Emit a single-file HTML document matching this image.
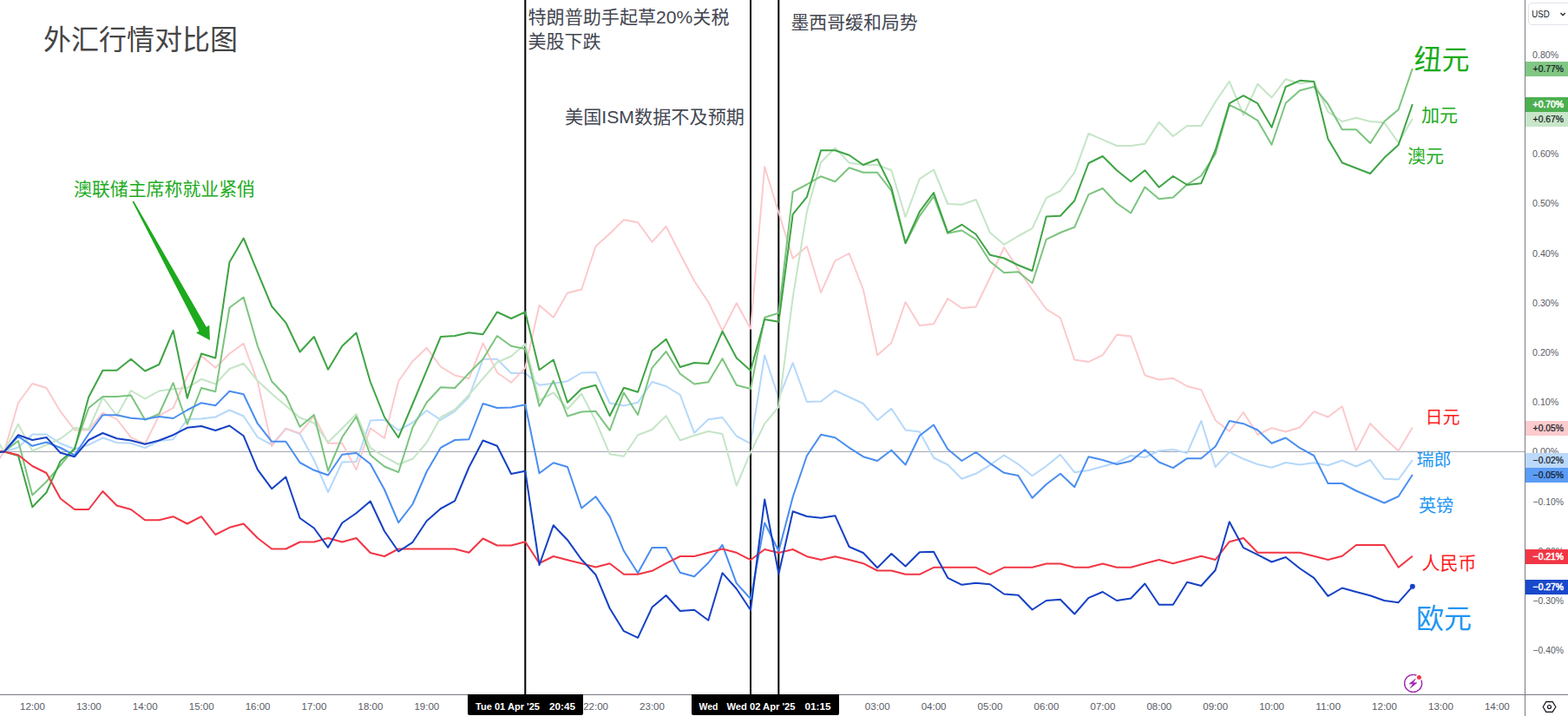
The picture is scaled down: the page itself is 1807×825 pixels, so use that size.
<!DOCTYPE html>
<html><head><meta charset="utf-8"><title>FX comparison</title>
<style>
html,body{margin:0;padding:0;background:#fff;}
body{width:1807px;height:825px;overflow:hidden;position:relative;font-family:"Liberation Sans",sans-serif;}
svg{position:absolute;left:0;top:0;display:block}
text{font-family:"Liberation Sans",sans-serif;}
.ax{font-size:11px;fill:#585b66;}
.tm{font-size:11.5px;fill:#585b66;text-anchor:middle;}
.lb{font-size:11px;}
.tb{font-size:11.5px;font-weight:bold;}
.cj{font-family:"Liberation Sans","Noto Sans CJK SC",sans-serif;}
</style></head><body>
<svg width="1807" height="825" viewBox="0 0 1807 825">
<rect width="1807" height="825" fill="#fff"/>
<rect x="0" y="520" width="1757" height="1" fill="#9598a1" opacity="0.85"/>
<path d="M-11.4,521 L4.8,520.5 L21,515.5 L37.3,500.5 L53.5,500.5 L69.7,511 L86,517.5 L102.2,512.5 L118.4,504.5 L134.6,510 L150.9,510.8 L167.1,516 L183.3,508 L199.6,506.2 L215.8,483 L232,482.5 L248.3,480.5 L264.5,472.5 L280.7,479.5 L296.9,503.8 L313.2,512.5 L329.4,493.8 L345.6,500 L361.9,530 L378.1,567 L394.3,532.5 L410.6,532 L426.8,484.5 L443,483.8 L459.2,495.8 L475.5,487 L491.7,473 L507.9,483.8 L524.2,473.8 L540.4,457.5 L556.6,413.8 L572.9,413.8 L589.1,430 L605.3,430 L621.5,443.8 L637.8,441.8 L654,439.2 L670.2,429.5 L686.5,429 L702.7,464.5 L718.9,467.5 L735.1,463.8 L751.4,440 L767.6,445 L783.8,455 L800.1,498.8 L816.3,483.2 L832.5,481 L848.8,502.5 L865,511.2 L881.2,409.5 L897.4,458.8 L913.7,418.2 L929.9,463 L946.1,462.5 L962.4,450 L978.6,457.5 L994.8,465 L1011.1,484.2 L1027.3,470.8 L1043.5,495.5 L1059.8,497.5 L1076,527.5 L1092.2,535.5 L1108.4,551.8 L1124.7,545.8 L1140.9,535.8 L1157.1,524.5 L1173.4,534.8 L1189.6,548.2 L1205.8,537 L1222,523.8 L1238.3,544.2 L1254.5,542 L1270.7,537.5 L1287,533 L1303.2,525 L1319.4,527 L1335.7,519.5 L1351.9,518 L1368.1,522 L1384.3,485 L1400.6,538 L1416.8,520.8 L1433,528.8 L1449.3,535 L1465.5,538.8 L1481.7,533 L1498,535.5 L1514.2,533.2 L1530.4,536.2 L1546.7,530.5 L1562.9,537.5 L1579.1,530 L1595.3,551.8 L1611.6,552.5 L1627.8,530" fill="none" stroke="#b5d8fb" stroke-width="2" stroke-linejoin="round" stroke-linecap="butt" opacity="1"/>
<rect x="604.3" y="0" width="2" height="800" fill="#000"/>
<rect x="864" y="0" width="2" height="800" fill="#000"/>
<rect x="896.3" y="0" width="2" height="800" fill="#000"/>
<g>
<path d="M-11.4,544 L4.8,520.5 L21,464.2 L37.3,442 L53.5,447 L69.7,474.2 L86,495.5 L102.2,495.5 L118.4,475.5 L134.6,483 L150.9,503.8 L167.1,511.5 L183.3,478.8 L199.6,470 L215.8,433.5 L232,410 L248.3,423.8 L264.5,407.5 L280.7,395.8 L296.9,440 L313.2,514.2 L329.4,493.8 L345.6,499.2 L361.9,479.5 L378.1,510.8 L394.3,510.8 L410.6,541.2 L426.8,493.2 L443,505 L459.2,439.2 L475.5,416.2 L491.7,400.8 L507.9,422.5 L524.2,432.5 L540.4,436.2 L556.6,395.5 L572.9,429.2 L589.1,440.8 L605.3,423.8 L621.5,351.8 L637.8,365.8 L654,337.5 L670.2,333.5 L686.5,283.8 L702.7,269.2 L718.9,253.2 L735.1,256.2 L751.4,278.8 L767.6,260.8 L783.8,292.5 L800.1,323.8 L816.3,348 L832.5,381.2 L848.8,349.2 L865,378.8 L881.2,192.2 L897.4,245 L913.7,297.8 L929.9,284 L946.1,337.2 L962.4,300.5 L978.6,292 L994.8,333.5 L1011.1,409.2 L1027.3,395 L1043.5,348 L1059.8,375 L1076,373.2 L1092.2,344 L1108.4,355 L1124.7,353.5 L1140.9,320 L1157.1,285 L1173.4,310 L1189.6,333.8 L1205.8,356.2 L1222,366.2 L1238.3,414.5 L1254.5,417 L1270.7,409.2 L1287,385.8 L1303.2,387.5 L1319.4,432.5 L1335.7,437.5 L1351.9,435.8 L1368.1,445 L1384.3,449.2 L1400.6,484.2 L1416.8,497 L1433,475 L1449.3,500.8 L1465.5,493.2 L1481.7,497.5 L1498,492.5 L1514.2,474.2 L1530.4,480.5 L1546.7,468.2 L1562.9,519.5 L1579.1,488 L1595.3,504.5 L1611.6,519.5 L1627.8,492.5" fill="none" stroke="#fcc8cb" stroke-width="1.9" stroke-linejoin="round" stroke-linecap="butt" opacity="1"/>
<path d="M-11.4,493.5 L4.8,520.5 L21,488.8 L37.3,519.5 L53.5,512.5 L69.7,505.5 L86,493 L102.2,494.5 L118.4,458 L134.6,478.8 L150.9,450 L167.1,459.5 L183.3,450.5 L199.6,448.2 L215.8,447 L232,436.8 L248.3,442.5 L264.5,425 L280.7,418.8 L296.9,438.8 L313.2,453.8 L329.4,467.5 L345.6,481.2 L361.9,487.5 L378.1,509.5 L394.3,493.8 L410.6,477 L426.8,516.2 L443,526.2 L459.2,535 L475.5,528.8 L491.7,510 L507.9,480.8 L524.2,472 L540.4,455 L556.6,436.2 L572.9,417.5 L589.1,410.5 L605.3,396.2 L621.5,461.2 L637.8,452.5 L654,471.2 L670.2,453.8 L686.5,485 L702.7,523.2 L718.9,525.8 L735.1,501.2 L751.4,495 L767.6,479.2 L783.8,507.5 L800.1,501.8 L816.3,497 L832.5,500 L848.8,559.8 L865,521.2 L881.2,488.2 L897.4,468.8 L913.7,342.5 L929.9,243.8 L946.1,187 L962.4,170.5 L978.6,187.5 L994.8,190 L1011.1,190 L1027.3,196.2 L1043.5,250 L1059.8,206.2 L1076,195.5 L1092.2,235 L1108.4,235.8 L1124.7,230 L1140.9,268 L1157.1,281.8 L1173.4,272 L1189.6,263.2 L1205.8,228 L1222,220 L1238.3,198.8 L1254.5,153.8 L1270.7,160.8 L1287,168 L1303.2,168 L1319.4,165.8 L1335.7,140.8 L1351.9,157 L1368.1,145 L1384.3,145 L1400.6,117.5 L1416.8,93.8 L1433,132.5 L1449.3,96.8 L1465.5,112.5 L1481.7,91.2 L1498,96.2 L1514.2,93.8 L1530.4,128.8 L1546.7,140 L1562.9,135.8 L1579.1,140 L1595.3,141.2 L1611.6,164.5 L1627.8,136.8" fill="none" stroke="#c5e5c6" stroke-width="2" stroke-linejoin="round" stroke-linecap="butt" opacity="1"/>
<path d="M-11.4,523 L4.8,520.5 L21,508 L37.3,570.5 L53.5,555 L69.7,536.2 L86,516.2 L102.2,470 L118.4,457 L134.6,457 L150.9,455.5 L167.1,483.8 L183.3,477 L199.6,441.2 L215.8,488.8 L232,447 L248.3,451.2 L264.5,354.5 L280.7,342.5 L296.9,398.8 L313.2,439.5 L329.4,456.2 L345.6,491.8 L361.9,478 L378.1,542.5 L394.3,503.8 L410.6,480 L426.8,524.2 L443,537.5 L459.2,544.2 L475.5,492.5 L491.7,463.8 L507.9,446.2 L524.2,447 L540.4,430 L556.6,413.8 L572.9,387 L589.1,398.8 L605.3,402 L621.5,468 L637.8,438.8 L654,479.5 L670.2,474.5 L686.5,473.8 L702.7,495.8 L718.9,452.5 L735.1,478 L751.4,423.8 L767.6,405 L783.8,430.8 L800.1,442.5 L816.3,440.2 L832.5,413.2 L848.8,443.8 L865,448 L881.2,365.8 L897.4,360.8 L913.7,221.2 L929.9,212.5 L946.1,203.2 L962.4,209.2 L978.6,193.2 L994.8,198.8 L1011.1,198.8 L1027.3,220 L1043.5,280.5 L1059.8,248.8 L1076,226.2 L1092.2,268.8 L1108.4,265.5 L1124.7,275.8 L1140.9,301.2 L1157.1,314.2 L1173.4,313.2 L1189.6,326.2 L1205.8,275.8 L1222,268 L1238.3,261.8 L1254.5,224.2 L1270.7,217 L1287,234.2 L1303.2,245.5 L1319.4,215.5 L1335.7,229.2 L1351.9,227.5 L1368.1,212.5 L1384.3,202.5 L1400.6,177.5 L1416.8,120.8 L1433,128.8 L1449.3,138.8 L1465.5,166.8 L1481.7,118.8 L1498,104.2 L1514.2,100 L1530.4,120 L1546.7,149.2 L1562.9,149.2 L1579.1,165 L1595.3,140 L1611.6,126.2 L1627.8,78.8" fill="none" stroke="#7cc47f" stroke-width="2" stroke-linejoin="round" stroke-linecap="butt" opacity="1"/>
<path d="M-11.4,521 L4.8,520.5 L21,502.8 L37.3,513.8 L53.5,509.5 L69.7,516 L86,524.5 L102.2,500 L118.4,478.2 L134.6,478.2 L150.9,481.8 L167.1,483 L183.3,480 L199.6,482 L215.8,472.5 L232,464.2 L248.3,467.2 L264.5,450.8 L280.7,454.2 L296.9,488.2 L313.2,508.8 L329.4,508.8 L345.6,533 L361.9,541.8 L378.1,547.5 L394.3,523.8 L410.6,522 L426.8,534.5 L443,564 L459.2,602.2 L475.5,581 L491.7,543.5 L507.9,515.8 L524.2,507 L540.4,506.2 L556.6,465 L572.9,470 L589.1,469.5 L605.3,466.2 L621.5,545.2 L637.8,533.2 L654,538 L670.2,585.5 L686.5,572.2 L702.7,595.2 L718.9,634.8 L735.1,660.2 L751.4,631 L767.6,631 L783.8,659.8 L800.1,664.2 L816.3,648.5 L832.5,627.8 L848.8,672.2 L865,690 L881.2,602.5 L897.4,635 L913.7,572.5 L929.9,525 L946.1,500.8 L962.4,504.2 L978.6,515.8 L994.8,526.2 L1011.1,531 L1027.3,518.8 L1043.5,535.5 L1059.8,502 L1076,489.5 L1092.2,517.5 L1108.4,531 L1124.7,521 L1140.9,533.8 L1157.1,544.8 L1173.4,548 L1189.6,573.8 L1205.8,558 L1222,545.8 L1238.3,561.2 L1254.5,526.2 L1270.7,530 L1287,535 L1303.2,531.2 L1319.4,518.2 L1335.7,532.5 L1351.9,539.2 L1368.1,528.2 L1384.3,528.2 L1400.6,514.5 L1416.8,485 L1433,488.2 L1449.3,495.5 L1465.5,510.8 L1481.7,504.5 L1498,516.2 L1514.2,525 L1530.4,557 L1546.7,557 L1562.9,565.5 L1579.1,572.5 L1595.3,579.5 L1611.6,572 L1627.8,547" fill="none" stroke="#4a8ef0" stroke-width="2" stroke-linejoin="round" stroke-linecap="butt" opacity="1"/>
<path d="M-11.4,522 L4.8,520.5 L21,525 L37.3,584.2 L53.5,567.5 L69.7,531.2 L86,517.5 L102.2,457.5 L118.4,426.8 L134.6,426.8 L150.9,413.8 L167.1,427.5 L183.3,420 L199.6,380.8 L215.8,458.8 L232,407.5 L248.3,412.5 L264.5,302 L280.7,274.5 L296.9,313.8 L313.2,353 L329.4,371.8 L345.6,405.5 L361.9,388 L378.1,425.8 L394.3,398.8 L410.6,383.5 L426.8,440 L443,480.5 L459.2,504.2 L475.5,465.5 L491.7,426.8 L507.9,388 L524.2,387 L540.4,383.2 L556.6,385.2 L572.9,359.5 L589.1,367 L605.3,359.5 L621.5,426.2 L637.8,414.5 L654,463.8 L670.2,448 L686.5,443.8 L702.7,479.2 L718.9,446.8 L735.1,451.8 L751.4,404.2 L767.6,390.8 L783.8,423 L800.1,418 L816.3,419 L832.5,381.8 L848.8,412.5 L865,427 L881.2,368 L897.4,370.8 L913.7,246.8 L929.9,226.8 L946.1,173.2 L962.4,173.2 L978.6,178.8 L994.8,190 L1011.1,183.5 L1027.3,216.2 L1043.5,280 L1059.8,243.8 L1076,222 L1092.2,268 L1108.4,258.8 L1124.7,270 L1140.9,293.8 L1157.1,297.5 L1173.4,305.5 L1189.6,312 L1205.8,249.5 L1222,248.8 L1238.3,231.2 L1254.5,188 L1270.7,180 L1287,196.2 L1303.2,209.2 L1319.4,196.2 L1335.7,215.8 L1351.9,203 L1368.1,213 L1384.3,211.2 L1400.6,173.2 L1416.8,119.2 L1433,110.2 L1449.3,119.2 L1465.5,146.8 L1481.7,100 L1498,92.8 L1514.2,94 L1530.4,160 L1546.7,187.5 L1562.9,193.8 L1579.1,200 L1595.3,181.8 L1611.6,167 L1627.8,120" fill="none" stroke="#3fa444" stroke-width="2" stroke-linejoin="round" stroke-linecap="butt" opacity="1"/>
<path d="M-11.4,519 L4.8,520.5 L21,524.2 L37.3,537 L53.5,545 L69.7,574.5 L86,587 L102.2,587 L118.4,566 L134.6,582.5 L150.9,587 L167.1,599.2 L183.3,599.2 L199.6,595.2 L215.8,603.5 L232,595.2 L248.3,616 L264.5,607.8 L280.7,603.5 L296.9,620 L313.2,632.5 L329.4,632.5 L345.6,624.5 L361.9,624.5 L378.1,620 L394.3,624.5 L410.6,620 L426.8,637 L443,641 L459.2,632.5 L475.5,632.5 L491.7,632.5 L507.9,632.5 L524.2,632.5 L540.4,636.8 L556.6,620.5 L572.9,628.5 L589.1,628.5 L605.3,624.2 L621.5,649 L637.8,641 L654,645.2 L670.2,649.2 L686.5,653.5 L702.7,649.2 L718.9,661.8 L735.1,661.8 L751.4,657.8 L767.6,649.2 L783.8,641 L800.1,641 L816.3,636.8 L832.5,632.5 L848.8,636.8 L865,645.2 L881.2,633 L897.4,637 L913.7,633 L929.9,641.2 L946.1,645 L962.4,641.2 L978.6,645 L994.8,649.2 L1011.1,657.5 L1027.3,657.5 L1043.5,661.8 L1059.8,661.8 L1076,653.8 L1092.2,653.8 L1108.4,653.8 L1124.7,653.8 L1140.9,661.8 L1157.1,653.8 L1173.4,653.8 L1189.6,653.8 L1205.8,649.5 L1222,649.5 L1238.3,653.8 L1254.5,653.8 L1270.7,649.5 L1287,653.8 L1303.2,653.8 L1319.4,649.2 L1335.7,645 L1351.9,649.2 L1368.1,645 L1384.3,640.8 L1400.6,645 L1416.8,624.2 L1433,620 L1449.3,636.8 L1465.5,636.8 L1481.7,636.8 L1498,636.8 L1514.2,640.8 L1530.4,645 L1546.7,640.8 L1562.9,628 L1579.1,628 L1595.3,628 L1611.6,653.8 L1627.8,640.8" fill="none" stroke="#f23645" stroke-width="2" stroke-linejoin="round" stroke-linecap="butt" opacity="1"/>
<path d="M-11.4,522 L4.8,520.5 L21,501.2 L37.3,507 L53.5,504 L69.7,521.8 L86,526.2 L102.2,507 L118.4,499 L134.6,505.2 L150.9,507.5 L167.1,511.8 L183.3,507.5 L199.6,501.2 L215.8,492.8 L232,491 L248.3,496 L264.5,490.5 L280.7,502.2 L296.9,541.2 L313.2,563.2 L329.4,549.5 L345.6,597 L361.9,608.5 L378.1,630.8 L394.3,602.5 L410.6,591.2 L426.8,577.5 L443,612 L459.2,635.5 L475.5,624.8 L491.7,600.2 L507.9,586 L524.2,577.2 L540.4,538.5 L556.6,507.5 L572.9,513.8 L589.1,546 L605.3,542.8 L621.5,651 L637.8,605.2 L654,622.2 L670.2,644.8 L686.5,662.2 L702.7,701 L718.9,727.2 L735.1,734.8 L751.4,699.8 L767.6,686 L783.8,704 L800.1,702.8 L816.3,714.8 L832.5,660.2 L848.8,678.5 L865,703 L881.2,575.5 L897.4,661.2 L913.7,589.2 L929.9,595 L946.1,596.8 L962.4,594.2 L978.6,630 L994.8,637 L1011.1,654.2 L1027.3,638 L1043.5,652.5 L1059.8,636.2 L1076,635.8 L1092.2,665.8 L1108.4,673.8 L1124.7,671.8 L1140.9,673.2 L1157.1,684.5 L1173.4,685.8 L1189.6,702.5 L1205.8,692 L1222,690.8 L1238.3,707.5 L1254.5,688.8 L1270.7,682 L1287,692 L1303.2,689.5 L1319.4,672.5 L1335.7,696.8 L1351.9,696.8 L1368.1,670.8 L1384.3,675 L1400.6,657 L1416.8,601.2 L1433,631.2 L1449.3,639.2 L1465.5,647.5 L1481.7,642 L1498,655 L1514.2,665.8 L1530.4,686.8 L1546.7,677.5 L1562.9,682 L1579.1,686.2 L1595.3,692 L1611.6,694.2 L1627.8,675.8" fill="none" stroke="#1541c4" stroke-width="2" stroke-linejoin="round" stroke-linecap="butt" opacity="1"/>
</g>
<circle cx="1627.8" cy="675.75" r="3" fill="#1541c4"/>
<rect x="0" y="800" width="1807" height="1" fill="#787b86"/>
<rect x="1757" y="0" width="1" height="825" fill="#787b86"/>
<text class="ax" x="1766.4" y="753.1" textLength="35.6" lengthAdjust="spacingAndGlyphs">−0.40%</text>
<text class="ax" x="1766.4" y="695.9" textLength="35.6" lengthAdjust="spacingAndGlyphs">−0.30%</text>
<text class="ax" x="1766.4" y="638.7" textLength="35.6" lengthAdjust="spacingAndGlyphs">−0.20%</text>
<text class="ax" x="1766.4" y="581.5" textLength="35.6" lengthAdjust="spacingAndGlyphs">−0.10%</text>
<text class="ax" x="1766" y="524.3" textLength="30.3" lengthAdjust="spacingAndGlyphs">0.00%</text>
<text class="ax" x="1766" y="467.1" textLength="30.3" lengthAdjust="spacingAndGlyphs">0.10%</text>
<text class="ax" x="1766" y="409.9" textLength="30.3" lengthAdjust="spacingAndGlyphs">0.20%</text>
<text class="ax" x="1766" y="352.7" textLength="30.3" lengthAdjust="spacingAndGlyphs">0.30%</text>
<text class="ax" x="1766" y="295.5" textLength="30.3" lengthAdjust="spacingAndGlyphs">0.40%</text>
<text class="ax" x="1766" y="238.3" textLength="30.3" lengthAdjust="spacingAndGlyphs">0.50%</text>
<text class="ax" x="1766" y="181.1" textLength="30.3" lengthAdjust="spacingAndGlyphs">0.60%</text>
<text class="ax" x="1766" y="123.9" textLength="30.3" lengthAdjust="spacingAndGlyphs">0.70%</text>
<text class="ax" x="1766" y="66.7" textLength="30.3" lengthAdjust="spacingAndGlyphs">0.80%</text>
<rect x="1758" y="71" width="49" height="17" fill="#81c784"/>
<text class="lb" x="1766.6" y="83.3" fill="#131722" stroke="#131722" stroke-width="0.22" textLength="35.4" lengthAdjust="spacingAndGlyphs">+0.77%</text>
<rect x="1758" y="112" width="49" height="17" fill="#4caf50"/>
<text class="lb" x="1766.6" y="124.3" fill="#fff" stroke="#fff" stroke-width="0.55" textLength="35.4" lengthAdjust="spacingAndGlyphs">+0.70%</text>
<rect x="1758" y="129" width="49" height="17" fill="#c8e6c9"/>
<text class="lb" x="1766.6" y="141.3" fill="#131722" stroke="#131722" stroke-width="0.22" textLength="35.4" lengthAdjust="spacingAndGlyphs">+0.67%</text>
<rect x="1758" y="485" width="49" height="17" fill="#fccbcd"/>
<text class="lb" x="1766.6" y="497.3" fill="#131722" stroke="#131722" stroke-width="0.22" textLength="35.4" lengthAdjust="spacingAndGlyphs">+0.05%</text>
<rect x="1758" y="522" width="49" height="17" fill="#bbd9fb"/>
<text class="lb" x="1766.6" y="534.3" fill="#131722" stroke="#131722" stroke-width="0.22" textLength="35.4" lengthAdjust="spacingAndGlyphs">−0.02%</text>
<rect x="1758" y="539" width="49" height="17" fill="#5b9cf6"/>
<text class="lb" x="1766.6" y="551.3" fill="#131722" stroke="#131722" stroke-width="0.22" textLength="35.4" lengthAdjust="spacingAndGlyphs">−0.05%</text>
<rect x="1758" y="633" width="49" height="17" fill="#f23645"/>
<text class="lb" x="1766.6" y="645.3" fill="#fff" stroke="#fff" stroke-width="0.55" textLength="35.4" lengthAdjust="spacingAndGlyphs">−0.21%</text>
<rect x="1758" y="668" width="49" height="17" fill="#1848cc"/>
<text class="lb" x="1766.6" y="680.3" fill="#fff" stroke="#fff" stroke-width="0.55" textLength="35.4" lengthAdjust="spacingAndGlyphs">−0.27%</text>
<rect x="1761.5" y="3.5" width="60" height="25" rx="3.5" fill="#fff" stroke="#e0e3eb"/>
<text x="1765.3" y="20" font-size="11" fill="#131722" textLength="20.5" lengthAdjust="spacingAndGlyphs">USD</text>
<path d="M1798.5,15 l2.6,2.6 l2.6,-2.6" fill="none" stroke="#131722" stroke-width="1.2"/>
<text class="tm" x="37.4" y="818" textLength="28.8" lengthAdjust="spacingAndGlyphs">12:00</text>
<text class="tm" x="102.3" y="818" textLength="28.8" lengthAdjust="spacingAndGlyphs">13:00</text>
<text class="tm" x="167.2" y="818" textLength="28.8" lengthAdjust="spacingAndGlyphs">14:00</text>
<text class="tm" x="232.2" y="818" textLength="28.8" lengthAdjust="spacingAndGlyphs">15:00</text>
<text class="tm" x="297.1" y="818" textLength="28.8" lengthAdjust="spacingAndGlyphs">16:00</text>
<text class="tm" x="362" y="818" textLength="28.8" lengthAdjust="spacingAndGlyphs">17:00</text>
<text class="tm" x="426.9" y="818" textLength="28.8" lengthAdjust="spacingAndGlyphs">18:00</text>
<text class="tm" x="491.8" y="818" textLength="28.8" lengthAdjust="spacingAndGlyphs">19:00</text>
<text class="tm" x="556.8" y="818" textLength="28.8" lengthAdjust="spacingAndGlyphs">20:00</text>
<text class="tm" x="621.7" y="818" textLength="28.8" lengthAdjust="spacingAndGlyphs">21:00</text>
<text class="tm" x="686.6" y="818" textLength="28.8" lengthAdjust="spacingAndGlyphs">22:00</text>
<text class="tm" x="751.5" y="818" textLength="28.8" lengthAdjust="spacingAndGlyphs">23:00</text>
<text class="tm" x="816.4" y="818" textLength="28.8" lengthAdjust="spacingAndGlyphs">00:00</text>
<text class="tm" x="881.4" y="818" textLength="28.8" lengthAdjust="spacingAndGlyphs">01:00</text>
<text class="tm" x="946.3" y="818" textLength="28.8" lengthAdjust="spacingAndGlyphs">02:00</text>
<text class="tm" x="1011.2" y="818" textLength="28.8" lengthAdjust="spacingAndGlyphs">03:00</text>
<text class="tm" x="1076.1" y="818" textLength="28.8" lengthAdjust="spacingAndGlyphs">04:00</text>
<text class="tm" x="1141" y="818" textLength="28.8" lengthAdjust="spacingAndGlyphs">05:00</text>
<text class="tm" x="1206" y="818" textLength="28.8" lengthAdjust="spacingAndGlyphs">06:00</text>
<text class="tm" x="1270.9" y="818" textLength="28.8" lengthAdjust="spacingAndGlyphs">07:00</text>
<text class="tm" x="1335.8" y="818" textLength="28.8" lengthAdjust="spacingAndGlyphs">08:00</text>
<text class="tm" x="1400.7" y="818" textLength="28.8" lengthAdjust="spacingAndGlyphs">09:00</text>
<text class="tm" x="1465.6" y="818" textLength="28.8" lengthAdjust="spacingAndGlyphs">10:00</text>
<text class="tm" x="1530.6" y="818" textLength="28.8" lengthAdjust="spacingAndGlyphs">11:00</text>
<text class="tm" x="1595.5" y="818" textLength="28.8" lengthAdjust="spacingAndGlyphs">12:00</text>
<text class="tm" x="1660.4" y="818" textLength="28.8" lengthAdjust="spacingAndGlyphs">13:00</text>
<text class="tm" x="1725.3" y="818" textLength="28.8" lengthAdjust="spacingAndGlyphs">14:00</text>
<path d="M539,800 H672 V822 Q672,824 670,824 H541 Q539,824 539,822 Z" fill="#000"/>
<text class="tb" x="548" y="818.3" fill="#fff" textLength="74" lengthAdjust="spacingAndGlyphs" xml:space="preserve">Tue 01 Apr '25</text>
<text class="tb" x="633" y="818.3" fill="#fff" textLength="30" lengthAdjust="spacingAndGlyphs" xml:space="preserve">20:45</text>
<path d="M797,800 H931 V822 Q931,824 929,824 H799 Q797,824 797,822 Z" fill="#000"/>
<text class="tb" x="805.5" y="818.3" fill="#fff" textLength="22" lengthAdjust="spacingAndGlyphs" xml:space="preserve">Wed</text>
<path d="M827,800 H967 V822 Q967,824 965,824 H829 Q827,824 827,822 Z" fill="#000"/>
<text class="tb" x="837.5" y="818.3" fill="#fff" textLength="79" lengthAdjust="spacingAndGlyphs" xml:space="preserve">Wed 02 Apr '25</text>
<text class="tb" x="927.5" y="818.3" fill="#fff" textLength="30" lengthAdjust="spacingAndGlyphs" xml:space="preserve">01:15</text>
<g fill="none" stroke="#0c0e15" stroke-width="1.15" stroke-linejoin="round"><path d="M1778.2,814.5 L1781.8,808.6 H1789.2 L1792.9,814.5 L1789.2,820.4 H1781.8 Z"/><circle cx="1785.5" cy="814.5" r="2"/></g>
<g><circle cx="1628.6" cy="787.4" r="10" fill="#fff" stroke="#9c27b0" stroke-width="1.35"/><path d="M1631.4,782.1 L1624.1,788 H1628.4 L1625.2,792.9 L1632.9,786.7 H1628.4 Z" fill="#9c27b0" stroke="#9c27b0" stroke-width="0.6" stroke-linejoin="round"/><circle cx="1635.4" cy="780.5" r="3.8" fill="#fff"/><circle cx="1635.4" cy="780.5" r="2.5" fill="#f23645"/></g>
<path d="M152.6,232.4 L229.5,381.5 L226,383.5 L241.9,392 L241.3,374.7 L237.8,376.8 L154,231.6 Z" fill="#1daa1d"/>
<text class="cj" x="50" y="56.5" font-size="32" fill="#454545" textLength="224" lengthAdjust="spacingAndGlyphs">外汇行情对比图</text>
<text class="cj" x="85" y="224.7" font-size="21" fill="#22ab22" textLength="209" lengthAdjust="spacingAndGlyphs">澳联储主席称就业紧俏</text>
<text class="cj" x="608.5" y="26.8" font-size="21" fill="#434651" textLength="232" lengthAdjust="spacingAndGlyphs">特朗普助手起草20%关税</text>
<text class="cj" x="608.5" y="54.8" font-size="21" fill="#434651" textLength="84" lengthAdjust="spacingAndGlyphs">美股下跌</text>
<text class="cj" x="651" y="142.4" font-size="21" fill="#434651" textLength="207" lengthAdjust="spacingAndGlyphs">美国ISM数据不及预期</text>
<text class="cj" x="911.5" y="33.2" font-size="21" fill="#434651" textLength="146" lengthAdjust="spacingAndGlyphs">墨西哥缓和局势</text>
<text class="cj" x="1629.5" y="80.2" font-size="32" fill="#1aab1a" textLength="64" lengthAdjust="spacingAndGlyphs">纽元</text>
<text class="cj" x="1638" y="139.6" font-size="21" fill="#22ab22" textLength="42" lengthAdjust="spacingAndGlyphs">加元</text>
<text class="cj" x="1622" y="186.7" font-size="21" fill="#22ab22" textLength="42" lengthAdjust="spacingAndGlyphs">澳元</text>
<text class="cj" x="1642.5" y="488.2" font-size="20" fill="#ff1a1a" textLength="40" lengthAdjust="spacingAndGlyphs">日元</text>
<text class="cj" x="1632.5" y="537.3" font-size="20" fill="#2196f3" textLength="40" lengthAdjust="spacingAndGlyphs">瑞郎</text>
<text class="cj" x="1635" y="589.8" font-size="20" fill="#2196f3" textLength="40" lengthAdjust="spacingAndGlyphs">英镑</text>
<text class="cj" x="1638.5" y="656" font-size="21" fill="#ff1a1a" textLength="63" lengthAdjust="spacingAndGlyphs">人民币</text>
<text class="cj" x="1632" y="723.5" font-size="32" fill="#2196f3" textLength="64" lengthAdjust="spacingAndGlyphs">欧元</text>
</svg></body></html>
